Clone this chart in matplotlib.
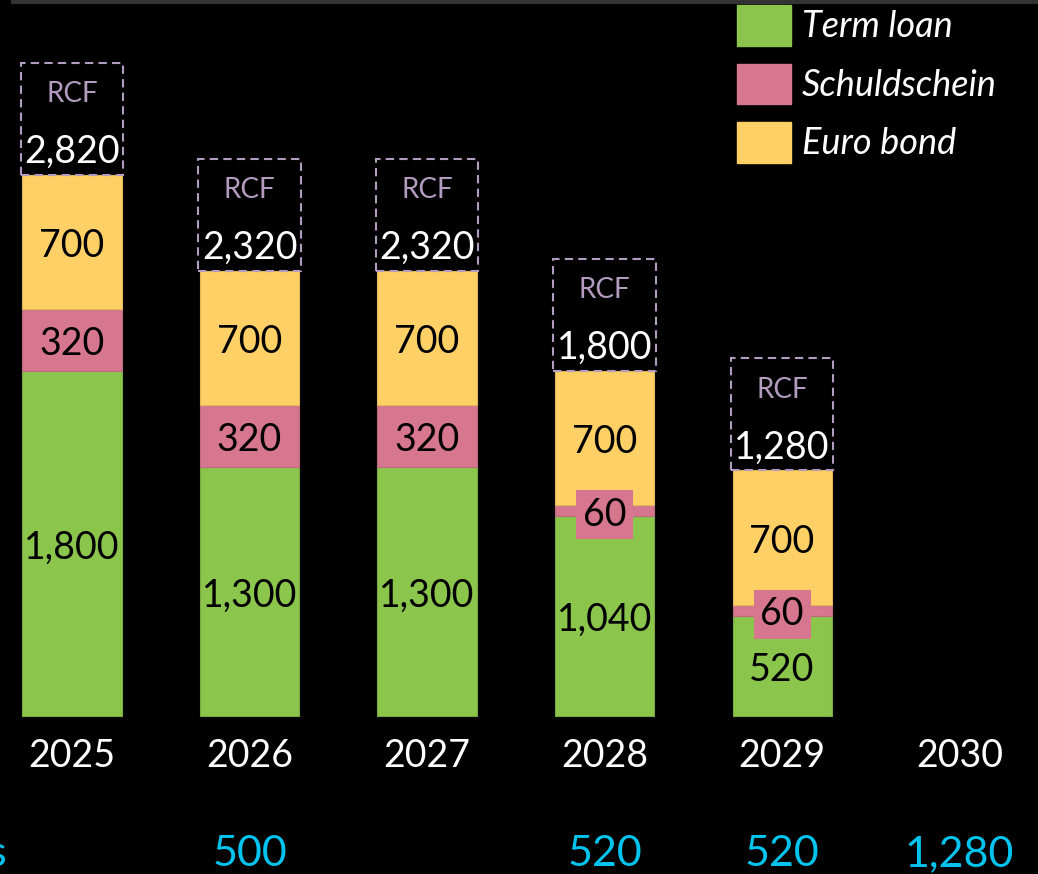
import matplotlib
matplotlib.use("Agg")
import matplotlib.pyplot as plt
from matplotlib.patches import Rectangle, Patch
from matplotlib.transforms import ScaledTranslation
import numpy as np

# --- data -------------------------------------------------------------
years = ["2025", "2026", "2027", "2028", "2029", "2030"]
term_loan = [1800, 1300, 1300, 1040, 520]
schuldschein = [320, 320, 320, 60, 60]
euro_bond = [700, 700, 700, 700, 700]
repayments = ["", "500", "", "520", "520", "1,280"]
repayments_title = "Repayments"

# --- style ------------------------------------------------------------
GREEN = "#8bc54b"
PINK = "#d6768f"
YELLOW = "#ffd065"
CYAN = "#00c4ee"
RCF_C = "#b49cc0"
FONT = "Lato"

plt.rcParams["font.family"] = [FONT, "DejaVu Sans"]

fig = plt.figure(figsize=(10.38, 8.74), dpi=100, facecolor="black")
ax = fig.add_axes([0, 0, 1, 1])
ax.set_facecolor("black")
ax.set_xlim(-0.4056, 5.442)
ax.set_ylim(-824, 3733)
ax.axis("off")

# nudge text a few pixels down so digits sit optically centred
tx = ax.transData + ScaledTranslation(0, -4 / 100, fig.dpi_scale_trans)

x = np.arange(len(term_loan))
width = 0.558
term = np.array(term_loan)
sch = np.array(schuldschein)
euro = np.array(euro_bond)

ax.bar(x, term, width, color=GREEN, edgecolor="#7aa843", linewidth=0.8, label="Term loan")
ax.bar(x, sch, width, bottom=term, color=PINK, edgecolor="#c06a80", linewidth=0.8, label="Schuldschein")
ax.bar(x, euro, width, bottom=term + sch, color=YELLOW, edgecolor="#e0b858", linewidth=0.8, label="Euro bond")

fs = 27
for i in range(len(term)):
    ax.text(x[i], term[i] / 2, f"{term[i]:,}", ha="center", va="center",
            fontsize=fs, color="black", transform=tx)
    ax.text(x[i], term[i] + sch[i] / 2, f"{sch[i]:,}", ha="center", va="center",
            fontsize=fs, color="black", transform=tx,
            bbox=dict(boxstyle="square,pad=0.18", fc=PINK, ec="none"))
    ax.text(x[i], term[i] + sch[i] + euro[i] / 2, f"{euro[i]:,}", ha="center", va="center",
            fontsize=fs, color="black", transform=tx)

    total = term[i] + sch[i] + euro[i]
    box_h = 584
    ax.add_patch(Rectangle((x[i] - width / 2 - 0.01, total), width + 0.02, box_h,
                           fill=False, edgecolor=RCF_C, linewidth=1.5,
                           linestyle=(0, (4, 2.5)), zorder=3))
    ax.text(x[i], total + 443, "RCF", ha="center", va="center",
            fontsize=20, color=RCF_C, transform=tx)
    ax.text(x[i], total + 141, f"{total:,}", ha="center", va="center",
            fontsize=fs, color="white", zorder=4, transform=tx)

# year labels and repayment row
for i, yr in enumerate(years):
    ax.text(i, -188, yr, ha="center", va="center", fontsize=fs,
            color="white", transform=tx)
    if repayments[i]:
        ax.text(i, -698, repayments[i], ha="center", va="center",
                fontsize=31, color=CYAN, transform=tx)
ax.text(-0.37, -698, repayments_title, ha="right", va="center",
        fontsize=31, color=CYAN, transform=tx)

# thin header rule
fig.add_artist(plt.Line2D([13 / 1038, 1.0], [0.9977, 0.9977], color="#333333",
                          linewidth=3, transform=fig.transFigure))

# legend
handles = [Patch(color=GREEN), Patch(color=PINK), Patch(color=YELLOW)]
leg = fig.legend(handles, ["Term loan", "Schuldschein", "Euro bond"],
                 loc="upper left", bbox_to_anchor=(737 / 1038, 1 - 5 / 874),
                 frameon=False, handlelength=1.5, handleheight=1.35,
                 labelspacing=0.5, handletextpad=0.3, borderpad=0, borderaxespad=0,
                 prop=dict(family=[FONT, "DejaVu Sans"], style="italic", size=26))
for t in leg.get_texts():
    t.set_color("white")

fig.savefig("out.png", dpi=100, facecolor="black")
